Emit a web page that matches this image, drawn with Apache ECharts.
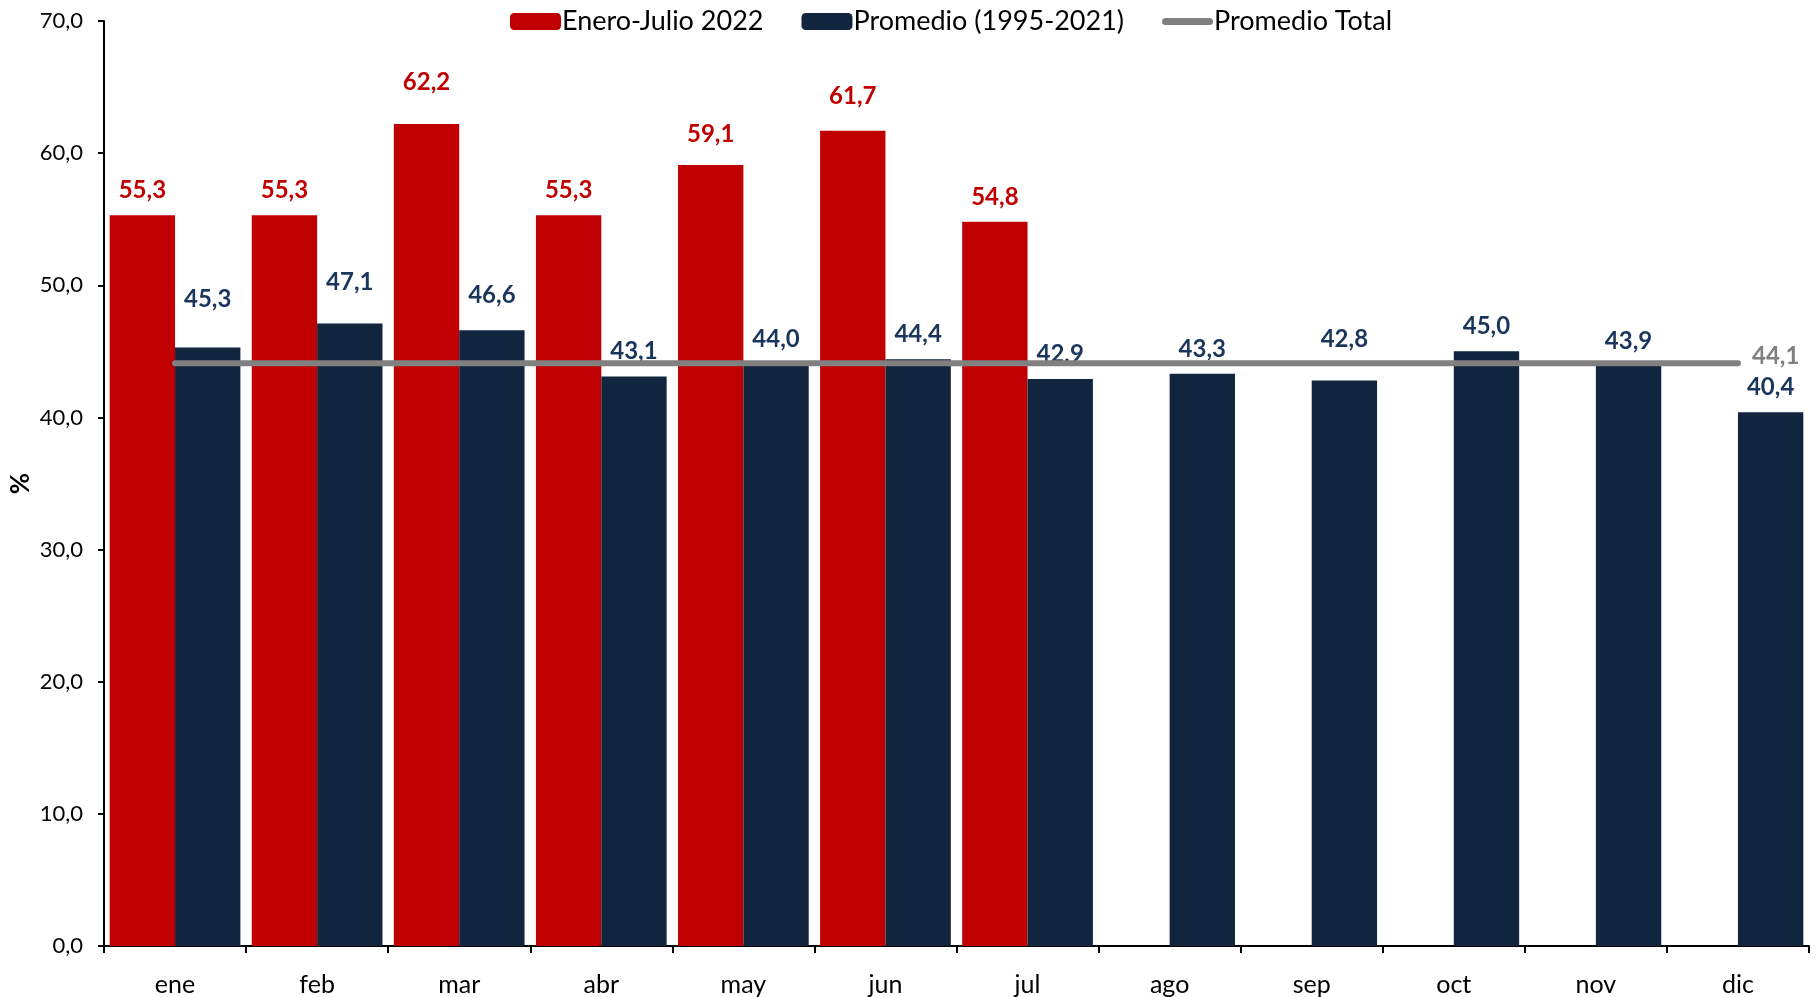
<!DOCTYPE html>
<html>
<head>
<meta charset="utf-8">
<script src="https://cdn.jsdelivr.net/npm/echarts@6/dist/echarts.min.js"></script>
<style>
  html, body { margin: 0; padding: 0; background: #fff; }
  #chart { width: 1818px; height: 997px; }
</style>
</head>
<body>
<div id="chart"></div>
<script>
// Monthly values (%)
const months = ['ene', 'feb', 'mar', 'abr', 'may', 'jun', 'jul', 'ago', 'sep', 'oct', 'nov', 'dic'];
const enero2022 = [55.3, 55.3, 62.2, 55.3, 59.1, 61.7, 54.8, null, null, null, null, null];
const promedio9521 = [45.3, 47.1, 46.6, 43.1, 44.0, 44.4, 42.9, 43.3, 42.8, 45.0, 43.9, 40.4];
const promedioTotal = [44.1, 44.1, 44.1, 44.1, 44.1, 44.1, 44.1, 44.1, 44.1, 44.1, 44.1, 44.1];
const yTicks = { min: 0, max: 70, interval: 10 };

const FONT = 'Lato, "Open Sans", sans-serif';
const fmt = v => v.toFixed(1).replace('.', ',');

// a few labels sit higher above their bars
const liftRed = { 2: 17, 4: 6, 5: 9 };
const liftNavy = { 0: 23, 1: 16, 2: 10, 8: 16 };

function barData(values, lift) {
  return values.map((v, i) => {
    if (v === null) return null;
    const item = { value: v };
    if (lift[i]) item.label = { offset: [0, -lift[i]] };
    return item;
  });
}

// thick rounded stroke used as the legend key of the average line
const lineKey = 'path://M3.5,0 H46.5 A3.5,3.5 0 0 1 46.5,7 H3.5 A3.5,3.5 0 0 1 3.5,0 Z';

const chart = echarts.init(document.getElementById('chart'));
chart.setOption({
  animation: false,
  textStyle: { fontFamily: FONT },
  legend: {
    left: 505,
    top: 3,
    itemWidth: 51,
    itemHeight: 17,
    itemGap: 38,
    textStyle: { fontSize: 27, color: '#000', fontFamily: FONT, padding: [0, 0, 0, -4] },
    data: [
      'Enero-Julio 2022',
      'Promedio (1995-2021)',
      { name: 'Promedio Total', icon: lineKey, itemStyle: { color: '#808080' } }
    ]
  },
  grid: { left: 104, right: 9, top: 21, bottom: 51, containLabel: false, outerBoundsMode: 'none' },
  xAxis: {
    type: 'category',
    data: months,
    axisLine: { lineStyle: { color: '#000', width: 2 } },
    axisTick: { show: true, length: 7, lineStyle: { color: '#000', width: 2 } },
    axisLabel: { color: '#000', fontSize: 25, margin: 26, fontFamily: FONT }
  },
  yAxis: {
    type: 'value',
    min: yTicks.min,
    max: yTicks.max,
    interval: yTicks.interval,
    name: '%',
    nameLocation: 'middle',
    nameGap: 70,
    nameMoveOverlap: false,
    nameRotate: 90,
    nameTextStyle: { color: '#000', fontSize: 26, fontWeight: 'bold', fontFamily: FONT },
    splitLine: { show: false },
    axisLine: { show: true, lineStyle: { color: '#000', width: 2 } },
    axisTick: { show: true, length: 6, lineStyle: { color: '#000', width: 2 } },
    axisLabel: { color: '#000', fontSize: 22, margin: 21, formatter: v => fmt(v), fontFamily: FONT }
  },
  series: [
    {
      name: 'Enero-Julio 2022',
      type: 'bar',
      data: barData(enero2022, liftRed),
      barGap: '0%',
      barCategoryGap: '8%',
      itemStyle: { color: '#C00000' },
      label: {
        show: true, position: 'top', distance: 13,
        color: '#C00000', fontSize: 24, fontWeight: 'bold', fontFamily: FONT,
        formatter: p => fmt(p.value)
      }
    },
    {
      name: 'Promedio (1995-2021)',
      type: 'bar',
      data: barData(promedio9521, liftNavy),
      barGap: '0%',
      barCategoryGap: '8%',
      itemStyle: { color: '#12253F' },
      label: {
        show: true, position: 'top', distance: 13,
        color: '#1B365D', fontSize: 24, fontWeight: 'bold', fontFamily: FONT,
        formatter: p => fmt(p.value)
      }
    },
    {
      name: 'Promedio Total',
      type: 'line',
      data: promedioTotal,
      symbol: 'none',
      z: 5,
      lineStyle: { color: '#808080', width: 6, cap: 'round' },
      itemStyle: { color: '#808080' },
      endLabel: {
        show: true, distance: 14, offset: [0, -7],
        color: '#808080', fontSize: 24, fontWeight: 'bold', fontFamily: FONT,
        formatter: p => fmt(p.value)
      }
    }
  ]
});
</script>
</body>
</html>
